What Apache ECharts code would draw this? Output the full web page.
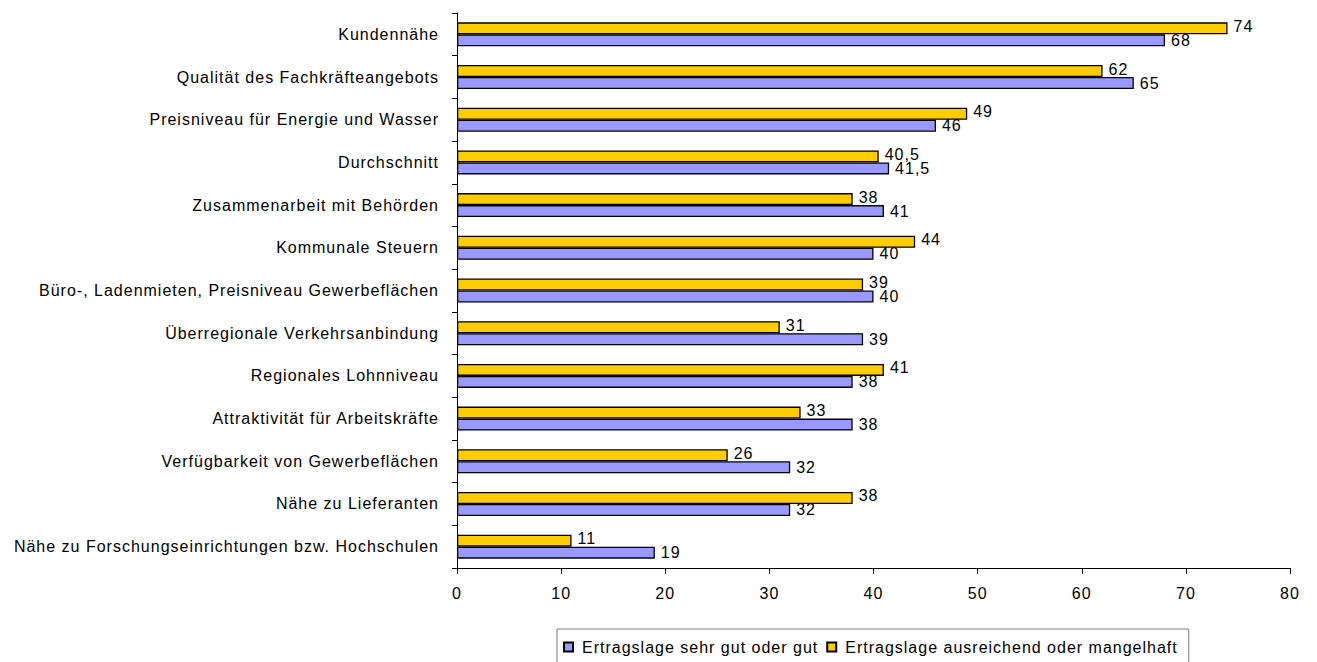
<!DOCTYPE html>
<html>
<head>
<meta charset="utf-8">
<script src="https://cdn.jsdelivr.net/npm/echarts@6/dist/echarts.min.js"></script>
<style>
  html, body { margin: 0; padding: 0; background: #fff; }
  #chart { width: 1317px; height: 662px; }
  /* slightly airy lettering, as in the office-style export */
  #chart svg text { letter-spacing: 1px; }
</style>
</head>
<body>
<div id="chart"></div>
<script>
// Standortfaktoren, top to bottom
const categories = [
  'Kundennähe',
  'Qualität des Fachkräfteangebots',
  'Preisniveau für Energie und Wasser',
  'Durchschnitt',
  'Zusammenarbeit mit Behörden',
  'Kommunale Steuern',
  'Büro-, Ladenmieten, Preisniveau Gewerbeflächen',
  'Überregionale Verkehrsanbindung',
  'Regionales Lohnniveau',
  'Attraktivität für Arbeitskräfte',
  'Verfügbarkeit von Gewerbeflächen',
  'Nähe zu Lieferanten',
  'Nähe zu Forschungseinrichtungen bzw. Hochschulen'
];
const seriesGood = [68, 65, 46, 41.5, 41, 40, 40, 39, 38, 38, 32, 32, 19];
const seriesWeak = [74, 62, 49, 40.5, 38, 44, 39, 31, 41, 33, 26, 38, 11];
const nameGood = 'Ertragslage sehr gut oder gut';
const nameWeak = 'Ertragslage ausreichend oder mangelhaft';
const xTicks = [0, 10, 20, 30, 40, 50, 60, 70, 80];

const font = 'Liberation Sans, Arial, sans-serif';
const fmt = p => String(p.value).replace('.', ',');

const chart = echarts.init(document.getElementById('chart'), null, { renderer: 'svg' });
chart.setOption({
  animation: false,
  backgroundColor: '#fff',
  textStyle: { fontFamily: font },
  grid: { left: 457, right: 27, top: 13, bottom: 94, containLabel: false },
  legend: {
    data: [nameGood, nameWeak],
    left: 557,
    top: 629,
    itemWidth: 9,
    itemHeight: 9,
    itemGap: 37,
    padding: [10, 50, 8, 6],
    borderColor: '#808080',
    borderWidth: 1,
    textStyle: { fontFamily: font, fontSize: 16, color: '#000', padding: [0, 0, 0, 4] },
    icon: 'rect'
  },
  xAxis: {
    type: 'value',
    min: xTicks[0],
    max: xTicks[xTicks.length - 1],
    interval: 10,
    axisLine: { show: true, lineStyle: { color: '#000' } },
    axisTick: { show: true, length: 6, lineStyle: { color: '#000' } },
    axisLabel: { color: '#000', fontSize: 16, margin: 17, fontFamily: font },
    splitLine: { show: false }
  },
  yAxis: {
    type: 'category',
    data: categories,
    inverse: true,
    axisLine: { show: true, lineStyle: { color: '#000' } },
    axisTick: { show: true, length: 5, lineStyle: { color: '#000' } },
    axisLabel: { color: '#000', fontSize: 16, margin: 18, fontFamily: font, padding: [0, 0, 4, 0] }
  },
  series: [
    {
      name: nameWeak,
      type: 'bar',
      data: seriesWeak,
      barWidth: 12,
      barGap: '0%',
      itemStyle: { color: '#FFCC00', borderColor: '#000', borderWidth: 1.3 },
      label: { show: true, position: 'right', distance: 6, color: '#000', fontSize: 16, formatter: fmt, offset: [0, -2] }
    },
    {
      name: nameGood,
      type: 'bar',
      data: seriesGood,
      barWidth: 12,
      barGap: '0%',
      itemStyle: { color: '#9999FF', borderColor: '#000', borderWidth: 1.3 },
      label: { show: true, position: 'right', distance: 6, color: '#000', fontSize: 16, formatter: fmt, offset: [0, 0] }
    }
  ]
});
</script>
</body>
</html>
